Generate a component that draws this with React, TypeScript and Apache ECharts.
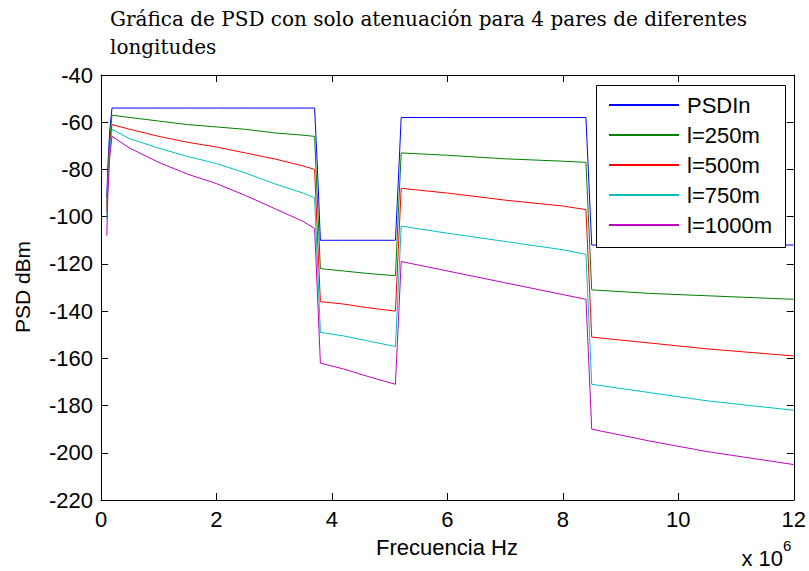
import React, { useEffect, useRef } from "react";
import * as echarts from "echarts";

const freq = [0.10, 0.12, 0.15, 0.19, 0.5, 1.0, 1.5, 2.0, 2.5, 3.0, 3.5, 3.70, 3.75, 3.80, 4.2, 4.6, 5.10, 5.15, 5.20, 6.0, 7.0, 8.0, 8.40, 8.45, 8.50, 9.5, 10.5, 12.0];

const psdIn = [-92, -78, -64, -54, -54, -54, -54, -54, -54, -54, -54, -54, -80, -110, -110, -110, -110, -85, -58, -58, -58, -58, -58, -85, -112, -112, -112, -112];
const l250 = [-95, -82, -68, -57, -58, -59.5, -61, -62, -63, -64.5, -65.5, -66, -94, -122, -123, -124, -125, -99, -73, -74, -75.5, -76.5, -77, -104, -131, -132.5, -133.5, -135];
const l500 = [-98, -84, -70, -61, -63, -66, -68.5, -70.5, -73, -75.5, -78.5, -80, -108, -136, -137, -138.5, -140, -114, -88, -90, -93, -95.5, -97, -124, -151, -153.5, -156, -159];
const l750 = [-101, -86, -72, -63, -67, -71, -74.5, -77.5, -81.5, -86, -90, -92, -120, -149, -150.5, -152.5, -155, -130, -104, -107, -110.5, -114, -116, -143, -171, -174.5, -178, -182];
const l1000 = [-108, -90, -75, -66, -71, -77, -82, -86, -91, -96.5, -102, -105, -133, -162, -164.5, -167.5, -171, -145, -119, -123, -128, -133, -135, -162, -190, -195, -199.5, -205];

const seriesNames = ["PSDIn", "l=250m", "l=500m", "l=750m", "l=1000m"];
const seriesValues = [psdIn, l250, l500, l750, l1000];
const seriesColors = ["#0000ff", "#008000", "#ff0000", "#00bfbf", "#bf00bf"];

const titleLines = ["Gráfica de PSD con solo atenuación para 4 pares de diferentes", "longitudes"];

const SANS = "Liberation Sans, Arial, sans-serif";
const SERIF = "DejaVu Serif, serif";

export default function App() {
  const ref = useRef<HTMLDivElement>(null);
  useEffect(() => {
    if (!ref.current) return;
    const chart = echarts.init(ref.current, undefined, { renderer: "svg" });
    const axisCommon = {
      type: "value" as const,
      axisLine: { show: true, onZero: false, lineStyle: { color: "#000", width: 1 } },
      axisTick: { show: true, inside: true, length: 7, lineStyle: { color: "#000" } },
      splitLine: { show: false },
    };
    chart.setOption({
      animation: false,
      backgroundColor: "#fff",
      grid: { left: 101, right: 14, top: 75, bottom: 71 },
      xAxis: [
        {
          ...axisCommon,
          position: "bottom",
          min: 0,
          max: 12,
          interval: 2,
          axisLabel: { color: "#000", fontSize: 22, fontFamily: SANS, margin: 8 },
        },
        {
          ...axisCommon,
          position: "top",
          min: 0,
          max: 12,
          interval: 2,
          axisLabel: { show: false },
        },
      ],
      yAxis: [
        {
          ...axisCommon,
          position: "left",
          min: -220,
          max: -40,
          interval: 20,
          axisLabel: { color: "#000", fontSize: 22, fontFamily: SANS, margin: 8 },
        },
        {
          ...axisCommon,
          position: "right",
          min: -220,
          max: -40,
          interval: 20,
          axisLabel: { show: false },
        },
      ],
      legend: {
        orient: "vertical",
        left: 609,
        top: 94,
        padding: 0,
        itemWidth: 70,
        itemHeight: 2,
        itemGap: 8,
        icon: "rect",
        z: 10,
        textStyle: { color: "#000", fontSize: 22, fontFamily: SANS, lineHeight: 22, padding: [0, 0, 0, 3] },
        data: seriesNames,
      },
      graphic: [
        {
          type: "rect",
          z: 5,
          shape: { x: 596.5, y: 85.5, width: 189, height: 162 },
          style: { fill: "#fff", stroke: "#000", lineWidth: 1 },
        },
        {
          type: "text",
          x: 110,
          y: 5,
          style: {
            text: titleLines.join("\n"),
            font: `20px ${SERIF}`,
            fill: "#000",
            lineHeight: 28,
            textAlign: "left",
            textVerticalAlign: "top",
          },
        },
        {
          type: "text",
          x: 447,
          y: 547,
          style: {
            text: "Frecuencia Hz",
            font: `22px ${SANS}`,
            fill: "#000",
            textAlign: "center",
            textVerticalAlign: "middle",
          },
        },
        {
          type: "text",
          x: 22,
          y: 287,
          rotation: Math.PI / 2,
          style: {
            text: "PSD dBm",
            font: `21px ${SANS}`,
            fill: "#000",
            textAlign: "center",
            textVerticalAlign: "middle",
          },
        },
        {
          type: "text",
          x: 783,
          y: 558,
          style: {
            text: "x 10",
            font: `22px ${SANS}`,
            fill: "#000",
            textAlign: "right",
            textVerticalAlign: "middle",
          },
        },
        {
          type: "text",
          x: 783,
          y: 545,
          style: {
            text: "6",
            font: `15px ${SANS}`,
            fill: "#000",
            textAlign: "left",
            textVerticalAlign: "middle",
          },
        },
      ],
      series: seriesNames.map((name, k) => ({
        name,
        type: "line",
        xAxisIndex: 0,
        yAxisIndex: 0,
        showSymbol: false,
        symbol: "none",
        color: seriesColors[k],
        lineStyle: { color: seriesColors[k], width: 1 },
        data: freq.map((f, i) => [f, seriesValues[k][i]]),
      })),
    });
    return () => chart.dispose();
  }, []);
  return <div ref={ref} style={{ width: 809, height: 571, position: "absolute", left: 0, top: 0 }} />;
}
